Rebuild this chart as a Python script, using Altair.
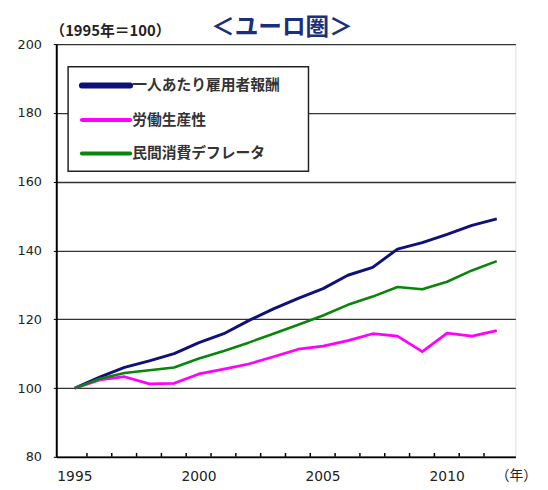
import altair as alt
import pandas as pd

years = list(range(1995, 2013))
series_names = ["一人あたり雇用者報酬", "労働生産性", "民間消費デフレータ"]
compensation = [100, 103.2, 106.0, 107.9, 110.0, 113.2, 115.8, 119.6, 123.0, 126.1,
                128.9, 132.8, 135.1, 140.4, 142.3, 144.7, 147.3, 149.2]
productivity = [100, 102.4, 103.3, 101.2, 101.4, 104.1, 105.5, 107.0, 109.1, 111.3,
                112.2, 113.8, 115.8, 115.1, 110.6, 116.0, 115.1, 116.7]
deflator = [100, 102.7, 104.4, 105.2, 106.0, 108.6, 110.8, 113.2, 115.8, 118.4,
            121.1, 124.2, 126.6, 129.4, 128.7, 130.9, 134.2, 136.9]
colors = ["#10107a", "#ff00ff", "#0a840a"]
y_ticks = [80, 100, 120, 140, 160, 180, 200]
x_labels = [1995, 2000, 2005, 2010]
unit_label = "（1995年＝100）"
title_label = "＜ユーロ圏＞"
year_label = "（年）"

rows = []
for name, vals in zip(series_names, [compensation, productivity, deflator]):
    for yr, v in zip(years, vals):
        rows.append({"year": yr, "value": v, "series": name})
df = pd.DataFrame(rows)

W, H = 466, 419
step = W / len(years)

x_enc = alt.X(
    "year:O",
    scale=alt.Scale(padding=0.5),
    axis=alt.Axis(values=x_labels, title=None, labelAngle=0, ticks=False,
                  domainColor="black", domainWidth=2, labelFont="DejaVu Sans",
                  labelFontSize=14, labelPadding=13, labelColor="#222", grid=False),
)

lines = alt.Chart(df).mark_line(strokeJoin="round").encode(
    x=x_enc,
    y=alt.Y("value:Q", scale=alt.Scale(domain=[80, 200], nice=False, zero=False),
            axis=alt.Axis(values=y_ticks, title=None, grid=True, gridColor="#333",
                          gridWidth=1.3, domainColor="black", domainWidth=2,
                          tickColor="black", tickSize=3, labelPadding=12,
                          labelFont="DejaVu Sans", labelFontSize=13, labelColor="#222")),
    color=alt.Color("series:N", scale=alt.Scale(domain=series_names, range=colors), legend=None),
    strokeWidth=alt.StrokeWidth("series:N", scale=alt.Scale(domain=series_names, range=[3, 2.6, 2.8]), legend=None),
)

ticks = alt.Chart(pd.DataFrame({"year": years[1:]})).mark_rule(
    color="black", strokeWidth=1.5, xOffset=-step / 2
).encode(x=x_enc, y=alt.value(H), y2=alt.value(H - 4))

box = alt.Chart(pd.DataFrame({"a": [0]})).mark_rect(
    fill="white", stroke="#222", strokeWidth=1.5
).encode(x=alt.value(12), x2=alt.value(256), y=alt.value(23), y2=alt.value(129))

legend_layers = []
row_y = [42, 77, 111]
sw = [6, 4, 4]
for i, name in enumerate(series_names):
    d = pd.DataFrame({"s": [name]})
    legend_layers.append(
        alt.Chart(d).mark_rule(color=colors[i], strokeWidth=sw[i], strokeCap="round").encode(
            x=alt.value(26), x2=alt.value(75), y=alt.value(row_y[i]))
    )
    legend_layers.append(
        alt.Chart(d).mark_text(align="left", baseline="middle", fontSize=15,
                               font="Noto Sans CJK JP", fontWeight="bold", color="#333").encode(
            x=alt.value(77), y=alt.value(row_y[i]), text="s:N")
    )

one = pd.DataFrame({"a": [0]})
unit_text = alt.Chart(one).mark_text(align="left", baseline="middle", fontSize=15,
                                     font="Noto Sans CJK JP", fontWeight="bold", color="#222").encode(
    x=alt.value(-6), y=alt.value(-13), text=alt.value(unit_label))
title_text = alt.Chart(one).mark_text(align="center", baseline="middle", fontSize=24,
                                      font="Noto Sans CJK JP", fontWeight="bold", color="#1c2f78").encode(
    x=alt.value(229), y=alt.value(-16), text=alt.value(title_label))
year_text = alt.Chart(one).mark_text(align="left", baseline="middle", fontSize=14,
                                     font="Noto Sans CJK JP", color="#222").encode(
    x=alt.value(446), y=alt.value(H + 19), text=alt.value(year_label))

chart = alt.layer(lines, ticks, box, *legend_layers, unit_text, title_text, year_text).properties(
    width=W, height=H,
    autosize=alt.AutoSizeParams(type="none"),
    padding={"left": 49, "top": 33, "right": 25, "bottom": 30},
).configure_view(stroke="#888", strokeWidth=1).configure(background="white")

chart.save("out.html", embed_options={"renderer": "svg", "actions": False})
